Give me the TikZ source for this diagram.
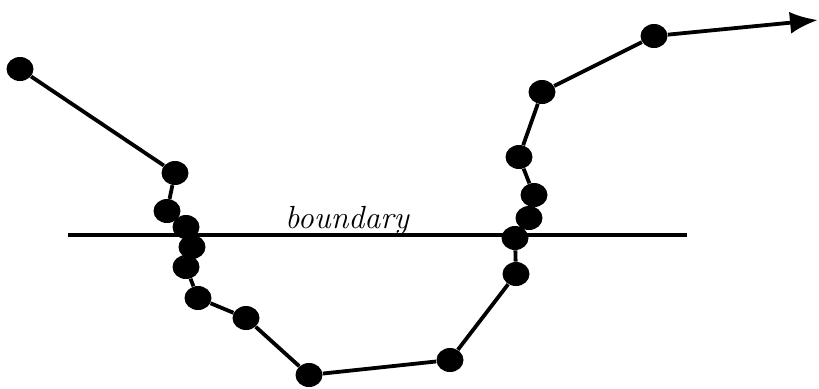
\documentclass[tikz,border=0pt]{standalone}
\usetikzlibrary{shapes.geometric,arrows.meta}
\begin{document}
\begin{tikzpicture}[x=0.5pt, y=-0.5pt,
    trackpt/.style={ellipse, fill=black, inner sep=0pt,
                    minimum width=13.5pt, minimum height=12pt},
    trackline/.style={draw=black, line width=1.9pt},
    boundline/.style={draw=black, line width=2.2pt},
    boundlabel/.style={anchor=base, font=\fontsize{16}{19}\selectfont\itshape}
  ]
    \useasboundingbox (0,0) rectangle (819,388);

    % boundary
    \coordinate (bl) at (68,235);
    \coordinate (br) at (687,235);
    \draw[boundline] (bl) -- (br);
    \node[boundlabel] (blab) at (347,228) {boundary};

    % track points
    \foreach \n/\x/\y in {p1/20/69, p2/175/173, p3/167/211, p4/186/227,
                          p5/192/247, p6/186/267, p7/198/298, p8/246/318,
                          p9/309/375, p10/450/360, p11/516/274, p12/515/238,
                          p13/529/218, p14/534/195, p15/519/157, p16/542/92,
                          p17/654/36}
      \node[trackpt] (\n) at (\x,\y) {};

    \foreach \a/\b in {p1/p2, p2/p3, p3/p4, p4/p5, p5/p6, p6/p7, p7/p8,
                       p8/p9, p9/p10, p10/p11, p11/p12, p12/p13, p13/p14,
                       p14/p15, p15/p16, p16/p17}
      \draw[trackline] (\a) -- (\b);

    \coordinate (tip) at (818,20);
    \draw[trackline, -{Latex[length=14pt, width=11pt]}] (p17) -- (tip);
\end{tikzpicture}
\end{document}
